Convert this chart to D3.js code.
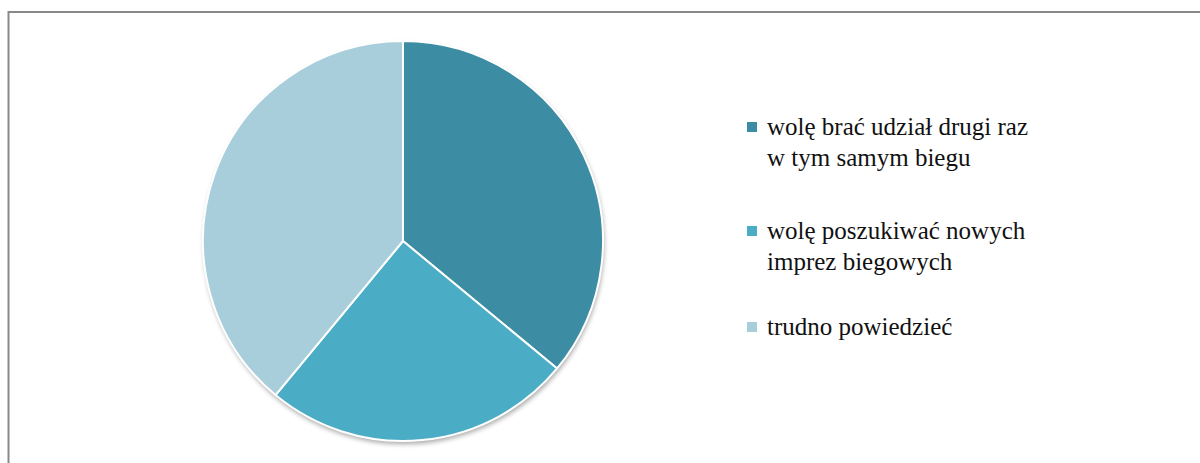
<!DOCTYPE html>
<html>
<head>
<meta charset="utf-8">
<script src="https://cdn.jsdelivr.net/npm/d3@7"></script>
<style>
  html, body { margin: 0; padding: 0; background: #fff; }
  svg { display: block; }
  .legend text { font-family: "Liberation Serif", "DejaVu Serif", "Times New Roman", serif; }
</style>
</head>
<body>
<div id="chart"></div>
<script>
var labels = [
    ["wolę brać udział drugi raz", "w tym samym biegu"],
    ["wolę poszukiwać nowych", "imprez biegowych"],
    ["trudno powiedzieć"]
];
var values = [36, 25, 39];
var colors = ["#3c8da4", "#4bacc6", "#a9cedb"];

var width = 1200, height = 463;
var cx = 403, cy = 241, radius = 200;

var svg = d3.select("#chart").append("svg")
    .attr("width", width)
    .attr("height", height);

// shadow under the pie
var defs = svg.append("defs");
var filter = defs.append("filter").attr("id", "shadow")
    .attr("x", "-20%").attr("y", "-20%").attr("width", "140%").attr("height", "140%");
filter.append("feGaussianBlur").attr("in", "SourceAlpha").attr("stdDeviation", 2.5);
filter.append("feOffset").attr("dx", 1).attr("dy", 3).attr("result", "off");
filter.append("feComponentTransfer").append("feFuncA").attr("type", "linear").attr("slope", 0.35);
var merge = filter.append("feMerge");
merge.append("feMergeNode");
merge.append("feMergeNode").attr("in", "SourceGraphic");

// frame (right and bottom run off the picture)
svg.append("rect")
    .attr("x", 8.5).attr("y", 12)
    .attr("width", 1200).attr("height", 500)
    .attr("fill", "none")
    .attr("stroke", "#898989")
    .attr("stroke-width", 2);

var pie = d3.pie().sort(null).value(function(d){ return d; });
var arc = d3.arc().innerRadius(0).outerRadius(radius);

var pieArea = svg.append("g")
    .attr("transform", "translate(" + cx + "," + cy + ")");

pieArea.append("circle")
    .attr("r", radius)
    .attr("fill", "#fff")
    .attr("filter", "url(#shadow)");

pieArea.selectAll("path")
    .data(pie(values))
    .enter()
    .append("path")
    .attr("d", arc)
    .attr("fill", function(d, i){ return colors[i]; })
    .attr("stroke", "#fff")
    .attr("stroke-width", 2)
    .attr("stroke-linejoin", "round");

// legend
var legendY = [122, 226, 322];
var lineH = 31;
var legend = svg.append("g").attr("class", "legend");

labels.forEach(function(lines, i){
    var g = legend.append("g").attr("transform", "translate(747," + legendY[i] + ")");
    g.append("rect")
        .attr("x", 0).attr("y", 0)
        .attr("width", 10).attr("height", 10)
        .attr("fill", colors[i]);
    var t = g.append("text")
        .attr("x", 20)
        .attr("y", 13)
        .attr("font-size", 25)
        .attr("fill", "#111");
    lines.forEach(function(s, j){
        t.append("tspan").attr("x", 20).attr("dy", j === 0 ? 0 : lineH).text(s);
    });
});
</script>
</body>
</html>
